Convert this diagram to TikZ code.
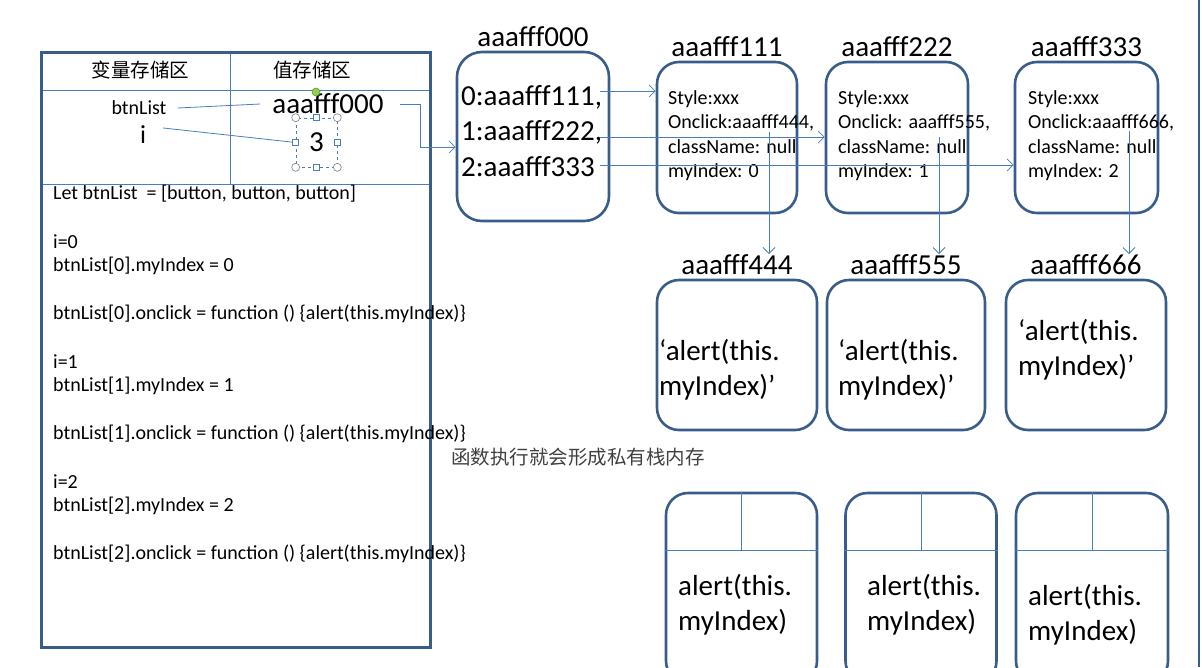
\documentclass[tikz,border=0pt]{standalone}
\usepackage{fontspec}
\setmainfont{Carlito}
\newfontfamily\cjk{Noto Sans CJK SC}
\usepackage{tikz}
\usetikzlibrary{positioning, arrows.meta}
\definecolor{boxblue}{HTML}{385D8A}
\definecolor{lineblue}{HTML}{4A7EBB}
\definecolor{handlegreen}{HTML}{92D050}
\tikzset{%
	>={Straight Barb[length=6pt, width=12pt]},
	link/.style = {lineblue, line width = 0.8pt},
	smalltxt/.style = {font = \fontsize{20}{24.5}\selectfont, inner sep = 0pt},
	bigtxt/.style = {font = \fontsize{29}{35}\selectfont, inner sep = 0pt},
	zh/.style = {font = \cjk\fontsize{19.5}{22}\selectfont, inner sep = 0pt},
	obj/.style = {name = #1, draw = boxblue, line width = 2.6pt, rounded corners = 22pt,
		label = {[bigtxt, name = #1-l, label distance = 4pt]above:#1}},
	framebox/.style = {draw = boxblue, line width = 2.6pt, rounded corners = 22pt},
	handle/.style = {circle, draw = gray, fill = white, inner sep = 0pt, minimum size = 8pt, line width = 0.6pt},
	grip/.style = {draw = lineblue, fill = white, inner sep = 0pt, minimum size = 6pt, line width = 0.6pt}
}
\begin{document}
\begin{tikzpicture}[x=1pt, y=-1pt]
	\useasboundingbox (0,0) rectangle (1202,667);
	% storage table
	\draw[link] (41,90) -- (430,90) (41,184) -- (430,184) (230,52) -- (230,184);
	\draw[boxblue, line width = 3pt] (41,52) rectangle (430,647);
	\node[zh] (varhead) at (140.5,70) {变量存储区};
	\node[zh] (valhead) at (312,70) {值存储区};
	\node[smalltxt] (btnList) at (139,108) {btnList};
	\node[font = \fontsize{26}{30}\selectfont, inner sep = 0pt] (ivar) at (143,135) {i};
	\node[bigtxt] (addr) at (328,104) {aaafff000};
	\node[bigtxt, draw = lineblue, dashed, line width = 0.6pt, minimum width = 41, minimum height = 49] (ival) at (316.5,142.5) {3};
	\draw[link] ([xshift = 11pt]btnList.east) -- ([xshift = -12pt]addr.west);
	\draw[link] ([xshift = 17pt, yshift = 7pt]ivar.east) -- (ival.west);
	\foreach \a in {north west, north east, south west, south east}
		\node[handle] at (ival.\a) {};
	\foreach \a in {north, south, east, west}
		\node[grip] at (ival.\a) {};
	\node[handle, fill = handlegreen, draw = handlegreen!70!black] (rot) at (316,92) {};
	\foreach \y/\s in {194/{Let btnList~~= [button, button, button]}, 242/{i=0}, 266/{btnList[0].myIndex = 0},
		314/{btnList[0].onclick = function () \{alert(this.myIndex)\}}, 362/{i=1}, 386/{btnList[1].myIndex = 1},
		434/{btnList[1].onclick = function () \{alert(this.myIndex)\}}, 482/{i=2}, 506/{btnList[2].myIndex = 2},
		554/{btnList[2].onclick = function () \{alert(this.myIndex)\}}}
		\node[smalltxt, anchor = west] at (53,\y) {\s};

	% heap objects
	\node[obj = {aaafff000}, rounded corners = 25pt, minimum width = 152, minimum height = 169] at (533,136.5) {};
	\node[bigtxt, anchor = west] (h0) at (461,97) {0:aaafff111,};
	\node[bigtxt, anchor = west] (h1) at (461,132) {1:aaafff222,};
	\node[bigtxt, anchor = west] (h2) at (461,167) {2:aaafff333};
	\node[obj = {aaafff111}, minimum width = 140, minimum height = 151] at (727,137.5) {};
	\node[obj = {aaafff222}, minimum width = 142, minimum height = 151] at (897,137.5) {};
	\node[obj = {aaafff333}, minimum width = 143, minimum height = 151] at (1086.5,137.5) {};
	\node[smalltxt, anchor = west, align = left] at (668,135.5) {Style:xxx\\Onclick:aaafff444,\\className: null\\myIndex: 0};
	\node[smalltxt, anchor = west, align = left] at (838,135.5) {Style:xxx\\Onclick: aaafff555,\\className: null\\myIndex: 1};
	\node[smalltxt, anchor = west, align = left] at (1028,135.5) {Style:xxx\\Onclick:aaafff666,\\className: null\\myIndex: 2};

	\node[obj = {aaafff444}, minimum width = 160, minimum height = 150] at (737,355) {};
	\node[obj = {aaafff555}, minimum width = 158, minimum height = 150] at (906,355) {};
	\node[obj = {aaafff666}, minimum width = 160, minimum height = 150] at (1086,355) {};
	\node[bigtxt, anchor = west, align = left] at (659,369.5) {‘alert(this.\\myIndex)’};
	\node[bigtxt, anchor = west, align = left] at (838,369.5) {‘alert(this.\\myIndex)’};
	\node[bigtxt, anchor = west, align = left] at (1018,349.5) {‘alert(this.\\myIndex)’};

	% private stacks
	\node[framebox, minimum width = 151, minimum height = 190] (f1) at (741.5,588) {};
	\node[framebox, minimum width = 151, minimum height = 190] (f2) at (921,588) {};
	\node[framebox, minimum width = 152, minimum height = 190] (f3) at (1092,588) {};
	\coordinate (cut) at (0,550);
	\foreach \f in {f1, f2, f3}
		\draw[link] (\f.west |- cut) -- (\f.east |- cut) (\f.north) -- (\f.north |- cut);
	\node[bigtxt, anchor = west, align = left] at (678,605) {alert(this.\\myIndex)};
	\node[bigtxt, anchor = west, align = left] at (867,605) {alert(this.\\myIndex)};
	\node[bigtxt, anchor = west, align = left] at (1028,615) {alert(this.\\myIndex)};
	\node[zh, anchor = west, text = black!75] (note) at (451,457) {函数执行就会形成私有栈内存};

	% pointers
	\coordinate (bend) at (420,147);
	\draw[link, ->] ([xshift = 16pt]addr.east) -| (bend) -- (bend -| aaafff000.west);
	\coordinate (s0) at (600,91);
	\coordinate (s1) at (600,137);
	\coordinate (s2) at (600,165);
	\draw[link, ->] (s0) -- (s0 -| aaafff111.west);
	\draw[link, ->] (s1) -- (s1 -| aaafff222.west);
	\draw[link, ->] (s2) -- (s2 -| aaafff333.west);
	\coordinate (c4) at (769,132);
	\coordinate (c5) at (939,137);
	\coordinate (c6) at (1129,131);
	\draw[link, ->] (c4) -- (c4 |- aaafff444-l.north);
	\draw[link, ->] (c5) -- (c5 |- aaafff555-l.north);
	\draw[link, ->] (c6) -- (c6 |- aaafff666-l.north);
	\draw[boxblue, line width = 2pt] (1199,0) -- (1199,667);
\end{tikzpicture}
\end{document}
